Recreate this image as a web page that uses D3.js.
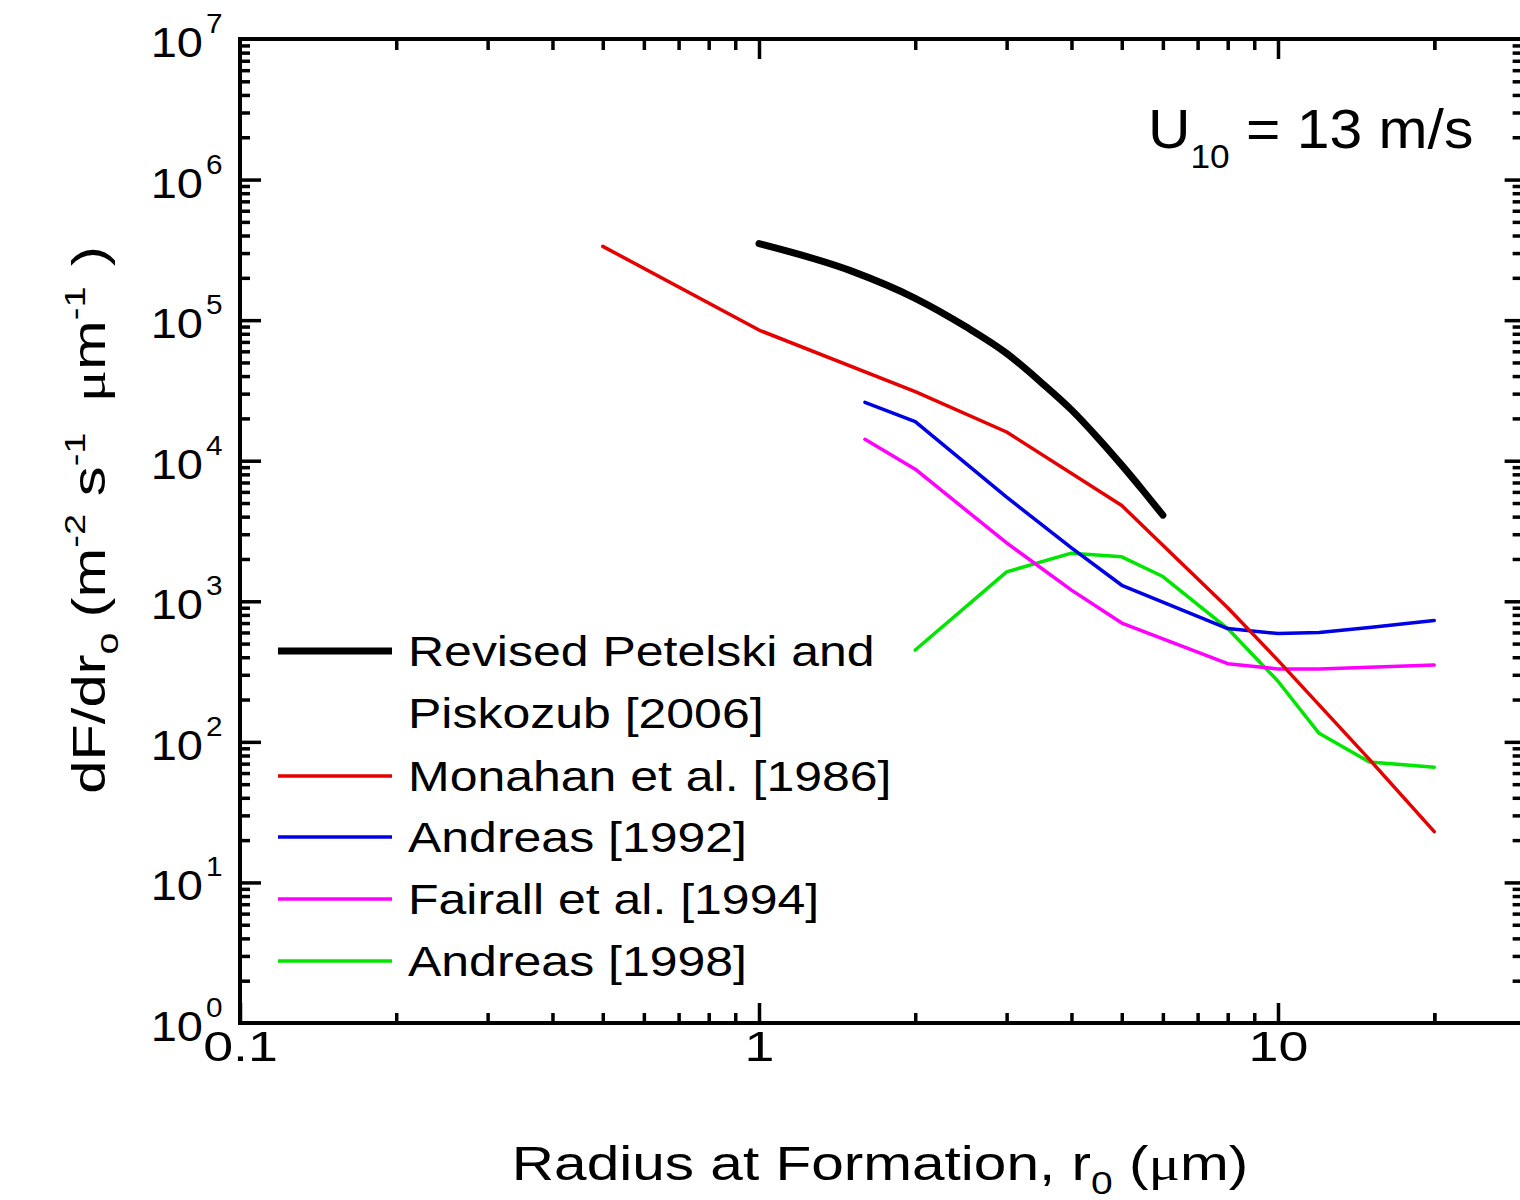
<!DOCTYPE html>
<html>
<head>
<meta charset="utf-8">
<script src="https://cdn.jsdelivr.net/npm/d3@7"></script>
<style>
  html, body { margin: 0; padding: 0; background: #fff; }
  svg { display: block; font-family: "Liberation Sans", Arial, sans-serif; }
</style>
</head>
<body>
<svg id="chart" width="1520" height="1200"></svg>
<script>
// ---- data ----
const petelskiR = [1, 1.5, 2, 2.5, 3, 3.5, 4, 4.5, 5, 5.5, 6];
const petelskiF = [3.5e5, 2.25e5, 1.43e5, 9.0e4, 5.8e4, 3.6e4, 2.3e4, 1.45e4, 9.3e3, 6.1e3, 4.1e3];

const monahanR = [0.5, 1, 2, 3, 5, 6, 8, 10, 15, 20];
const monahanF = [3.35e5, 8.5e4, 3.1e4, 1.6e4, 4.8e3, 2.5e3, 900, 380, 75, 23];

const andreas92R = [1.6, 2, 3, 4, 5, 8, 10, 12, 15, 20];
const andreas92F = [2.6e4, 1.9e4, 5.5e3, 2.4e3, 1.3e3, 640, 590, 600, 650, 730];

const fairallR = [1.6, 2, 3, 4, 5, 8, 10, 12, 15, 20];
const fairallF = [1.42e4, 8.7e3, 2.6e3, 1.2e3, 700, 360, 330, 330, 340, 352];

const andreas98R = [2, 3, 4, 5, 6, 8, 10, 12, 15, 20];
const andreas98F = [450, 1.62e3, 2.2e3, 2.07e3, 1.5e3, 640, 270, 115, 72, 66];

const seriesNames = [["Revised Petelski and", "Piskozub [2006]"], ["Monahan et al. [1986]"], ["Andreas [1992]"], ["Fairall et al. [1994]"], ["Andreas [1998]"]];
const seriesColors = ["#000000", "#e60000", "#0000e6", "#ff00ff", "#00e600"];

const xTickValues = [0.1, 1, 10];
const xTickLabels = ["0.1", "1", "10"];
const yTickExps = [0, 1, 2, 3, 4, 5, 6, 7];

// ---- layout ----
const svg = d3.select("#chart");
const pLeft = 240, pBottom = 1023, pTop = 39;
const decade = 519;
const x = d3.scaleLog().domain([0.1, 30]).range([pLeft, pLeft + decade * Math.log10(300)]);
const y = d3.scaleLog().domain([1, 1e7]).range([pBottom, pTop]);
const pRight = x(30);
const serif = '"Liberation Serif", "Times New Roman", serif';

const minorX = [];
[0.1, 1, 10].forEach(d => { for (let k = 2; k <= 9; k++) { const v = d * k; if (v < 30) minorX.push(v); } });
minorX.push(20);
const minorY = [];
for (let e = 0; e < 7; e++) for (let k = 2; k <= 9; k++) minorY.push(k * Math.pow(10, e));
const majorY = [1e1, 1e2, 1e3, 1e4, 1e5, 1e6];

function styleAxis(g) {
  g.select(".domain").remove();
  g.selectAll(".tick line").attr("stroke", "#000").attr("stroke-width", 3.5);
}

// minor ticks
svg.append("g").attr("transform", `translate(0,${pBottom})`)
  .call(d3.axisBottom(x).tickValues(minorX).tickSize(-10).tickFormat(""))
  .call(styleAxis);
svg.append("g").attr("transform", `translate(0,${pTop})`)
  .call(d3.axisTop(x).tickValues(minorX).tickSize(-11).tickFormat(""))
  .call(styleAxis);
svg.append("g").attr("transform", `translate(${pLeft},0)`)
  .call(d3.axisLeft(y).tickValues(minorY).tickSize(-10).tickFormat(""))
  .call(styleAxis);
svg.append("g").attr("transform", `translate(${pRight},0)`)
  .call(d3.axisRight(y).tickValues(minorY).tickSize(-13).tickFormat(""))
  .call(styleAxis);

// major ticks (bottom axis carries the labels)
const xb = svg.append("g").attr("transform", `translate(0,${pBottom})`)
  .call(d3.axisBottom(x).tickValues(xTickValues).tickSize(-20).tickPadding(7)
    .tickFormat((d, i) => xTickLabels[i]))
  .call(styleAxis);
xb.selectAll(".tick text").attr("font-size", 43).attr("fill", "#000")
  .attr("font-family", '"Liberation Sans", Arial, sans-serif')
  .attr("transform", "scale(1.25,1)")
  .attr("x", 0);
svg.append("g").attr("transform", `translate(0,${pTop})`)
  .call(d3.axisTop(x).tickValues([1, 10]).tickSize(-20).tickFormat(""))
  .call(styleAxis);
svg.append("g").attr("transform", `translate(${pLeft},0)`)
  .call(d3.axisLeft(y).tickValues(majorY).tickSize(-21).tickFormat(""))
  .call(styleAxis);
svg.append("g").attr("transform", `translate(${pRight},0)`)
  .call(d3.axisRight(y).tickValues(majorY).tickSize(-21).tickFormat(""))
  .call(styleAxis);

// frame
svg.append("rect").attr("x", pLeft).attr("y", pTop)
  .attr("width", pRight - pLeft).attr("height", pBottom - pTop)
  .attr("fill", "none").attr("stroke", "#000").attr("stroke-width", 4);

// y tick labels: 10^n
const yl = svg.append("g").attr("font-size", 42).attr("fill", "#000");
yTickExps.forEach(e => {
  yl.append("text")
    .attr("transform", `translate(203,${y(Math.pow(10, e)) + 18}) scale(1.12,1)`)
    .attr("text-anchor", "end").text("10");
  yl.append("text")
    .attr("transform", `translate(206,${y(Math.pow(10, e)) - 6}) scale(1.1,1)`)
    .attr("font-size", 27).text(e);
});

// series lines
const lineLin = d3.line().x(d => x(d[0])).y(d => y(d[1]));
const lineSmooth = d3.line().x(d => x(d[0])).y(d => y(d[1])).curve(d3.curveMonotoneX);
const zip = (a, b) => a.map((v, i) => [v, b[i]]);
const series = [
  { data: zip(petelskiR, petelskiF), w: 7, gen: lineSmooth },
  { data: zip(monahanR, monahanF), w: 3.5, gen: lineLin },
  { data: zip(andreas92R, andreas92F), w: 3.5, gen: lineLin },
  { data: zip(fairallR, fairallF), w: 3.5, gen: lineLin },
  { data: zip(andreas98R, andreas98F), w: 3.5, gen: lineLin }
];
const drawOrder = [4, 3, 2, 1, 0];
drawOrder.forEach(i => {
  const s = series[i];
  svg.append("path").attr("d", s.gen(s.data))
    .attr("fill", "none").attr("stroke", seriesColors[i])
    .attr("stroke-width", s.w).attr("stroke-linejoin", "round").attr("stroke-linecap", "round");
});

// legend
const legendY = [651, 776, 837, 899, 961];
const lg = svg.append("g");
seriesNames.forEach((lines, i) => {
  lg.append("line").attr("x1", 278).attr("x2", 392)
    .attr("y1", legendY[i]).attr("y2", legendY[i])
    .attr("stroke", seriesColors[i]).attr("stroke-width", series[i].w);
  lines.forEach((txt, j) => {
    lg.append("text")
      .attr("transform", `translate(408,${legendY[i] + 15 + j * 62}) scale(1.19,1)`)
      .attr("font-size", 42).attr("fill", "#000").text(txt);
  });
});

// annotation U10 = 13 m/s
const ann = svg.append("text").attr("transform", "translate(1148,148) scale(1.07,1)")
  .attr("font-size", 55).attr("fill", "#000");
ann.append("tspan").text("U");
ann.append("tspan").attr("font-size", 33).attr("dy", 20).text("10");
ann.append("tspan").attr("dy", -20).text(" = 13 m/s");

// x axis title
const xt = svg.append("text").attr("transform", "translate(880,1180) scale(1.22,1)")
  .attr("text-anchor", "middle").attr("font-size", 48).attr("fill", "#000");
xt.append("tspan").text("Radius at Formation, r");
xt.append("tspan").attr("font-size", 32).attr("dy", 14).text("0");
xt.append("tspan").attr("dy", -14).text(" (");
xt.append("tspan").attr("font-family", serif).text("μ");
xt.append("tspan").text("m)");

// y axis title
const yt = svg.append("text").attr("transform", "translate(105,520) rotate(-90) scale(1.27,1)")
  .attr("text-anchor", "middle").attr("font-size", 47).attr("fill", "#000");
yt.append("tspan").text("dF/dr");
yt.append("tspan").attr("font-size", 31).attr("dy", 13).text("o");
yt.append("tspan").attr("dy", -13).attr("dx", 12).text("(m");
yt.append("tspan").attr("font-size", 30).attr("dy", -20).text("-2");
yt.append("tspan").attr("dy", 20).attr("dx", 14).text("s");
yt.append("tspan").attr("font-size", 30).attr("dy", -20).text("-1");
yt.append("tspan").attr("dy", 20).attr("dx", 24).attr("font-family", serif).text("μ");
yt.append("tspan").text("m");
yt.append("tspan").attr("font-size", 30).attr("dy", -20).text("-1");
yt.append("tspan").attr("dy", 20).attr("dx", 16).text(")");
</script>
</body>
</html>
